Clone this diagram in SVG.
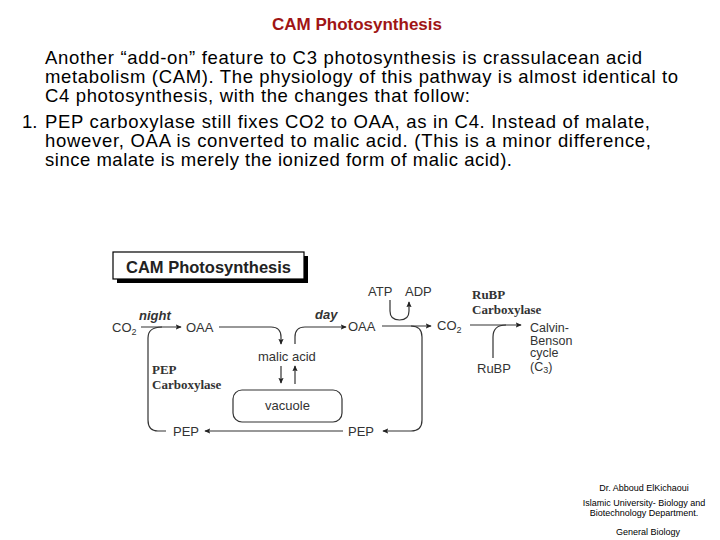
<svg xmlns="http://www.w3.org/2000/svg" width="720" height="540" viewBox="0 0 720 540">
<style>
.title{font-family:"Liberation Sans",Arial,sans-serif;font-weight:bold;font-size:17px;fill:#a01515}
.para{font-family:"Liberation Sans",Arial,sans-serif;font-size:18.5px;fill:#000}
.lbl{font-family:"Liberation Sans",Arial,sans-serif;font-size:13px;fill:#333}
.cal{font-family:"Liberation Sans",Arial,sans-serif;font-size:12.5px;fill:#333}
.it{font-family:"Liberation Sans",Arial,sans-serif;font-size:13px;font-style:italic;font-weight:bold;fill:#333}
.ser{font-family:"Liberation Serif","Times New Roman",serif;font-size:13px;font-weight:bold;fill:#333}
.foot{font-family:"Liberation Sans",Arial,sans-serif;font-size:9px;fill:#000}
.ln{fill:none;stroke:#333;stroke-width:1.2}
.arr{fill:none;stroke:#333;stroke-width:1.2;marker-end:url(#ah)}
</style>
<defs>
<marker id="ah" viewBox="0 0 8 8" refX="7" refY="4" markerWidth="6" markerHeight="6" markerUnits="userSpaceOnUse" orient="auto">
<path d="M0,0.5 L8,4 L0,7.5 L1.5,4 Z" fill="#222"/>
</marker>
</defs>
<rect width="720" height="540" fill="#fff"/>
<text class="title" x="357" y="30" text-anchor="middle">CAM Photosynthesis</text>
<g id="paragraph">
<text class="para" x="45" y="64" textLength="597" lengthAdjust="spacing">Another “add-on” feature to C3 photosynthesis is crassulacean acid</text>
<text class="para" x="45" y="83" textLength="633" lengthAdjust="spacing">metabolism (CAM). The physiology of this pathway is almost identical to</text>
<text class="para" x="45" y="102" textLength="425" lengthAdjust="spacing">C4 photosynthesis, with the changes that follow:</text>
<text class="para" x="22" y="128">1.</text>
<text class="para" x="45" y="128" textLength="605" lengthAdjust="spacing">PEP carboxylase still fixes CO2 to OAA, as in C4. Instead of malate,</text>
<text class="para" x="45" y="147" textLength="606" lengthAdjust="spacing">however, OAA is converted to malic acid. (This is a minor difference,</text>
<text class="para" x="45" y="166" textLength="467" lengthAdjust="spacing">since malate is merely the ionized form of malic acid).</text>
</g>
<g id="diagram-title">
<rect x="117" y="256" width="191" height="27" fill="#000"/>
<rect x="113" y="252" width="191" height="27" fill="#fff" stroke="#000" stroke-width="1.2"/>
<text x="126" y="273" font-family="Liberation Sans,Arial,sans-serif" font-weight="bold" font-size="16.5" fill="#222">CAM Photosynthesis</text>
</g>
<g id="connectors">
<path class="arr" d="M141,327 H181"/>
<path class="ln" d="M166,431 H158 Q148,431 148,420 V338 Q148,327 162,327"/>
<path class="arr" d="M219,327 H271 Q281,327 281,337 V344"/>
<path class="arr" d="M295,344 V337 Q295,327 305,327 H346"/>
<path class="arr" d="M281,366 V383"/>
<path class="arr" d="M295,384 V366"/>
<path class="arr" d="M382,326 H431"/>
<path class="arr" d="M411,326 Q422,326 422,337 V420 Q422,431 411,431 H383"/>
<path class="arr" d="M343,431 H205"/>
<path class="arr" d="M390,300 V311 Q390,320 399.5,320 Q409,320 409,311 V302"/>
<path class="arr" d="M470,325 H521"/>
<path class="ln" d="M493,358 V337 Q493,325 506,325"/>
</g>
<g id="co2-left"><text class="lbl" x="112" y="332">CO<tspan font-size="9" dy="3">2</tspan></text></g>
<g id="night"><text class="it" x="139" y="320">night</text></g>
<g id="oaa-left"><text class="lbl" x="186" y="332">OAA</text></g>
<g id="malic-acid"><text class="lbl" x="258" y="361">malic acid</text></g>
<g id="day"><text class="it" x="315" y="319">day</text></g>
<g id="oaa-right"><text class="lbl" x="348" y="331">OAA</text></g>
<g id="atp"><text class="lbl" x="368" y="296">ATP</text></g>
<g id="adp"><text class="lbl" x="405" y="296">ADP</text></g>
<g id="co2-right"><text class="lbl" x="437" y="330">CO<tspan font-size="9" dy="3">2</tspan></text></g>
<g id="rubp-carboxylase"><text class="ser" x="472" y="299">RuBP</text><text class="ser" x="472" y="314">Carboxylase</text></g>
<g id="calvin"><text class="cal" x="530" y="332">Calvin-</text><text class="cal" x="530" y="344.5">Benson</text><text class="cal" x="530" y="357">cycle</text><text class="cal" x="530" y="371">(C<tspan font-size="9" dy="2">3</tspan><tspan dy="-2">)</tspan></text></g>
<g id="rubp"><text class="lbl" x="477" y="373">RuBP</text></g>
<g id="pep-carboxylase"><text class="ser" x="152" y="374">PEP</text><text class="ser" x="152" y="389">Carboxylase</text></g>
<g id="vacuole"><rect x="233" y="390" width="109" height="32" rx="9" fill="#fff" stroke="#333" stroke-width="1.2"/><text class="lbl" x="287.5" y="410" text-anchor="middle">vacuole</text></g>
<g id="pep-left"><text class="lbl" x="173" y="436">PEP</text></g>
<g id="pep-right"><text class="lbl" x="348" y="436">PEP</text></g>
<g id="footer">
<text class="foot" x="644" y="491" text-anchor="middle" font-size="8.5">Dr. Abboud ElKichaoui</text>
<text class="foot" x="644" y="506" text-anchor="middle">Islamic University- Biology and</text>
<text class="foot" x="644" y="516" text-anchor="middle">Biotechnology Department.</text>
<text class="foot" x="648" y="535" text-anchor="middle">General Biology</text>
</g>
</svg>
